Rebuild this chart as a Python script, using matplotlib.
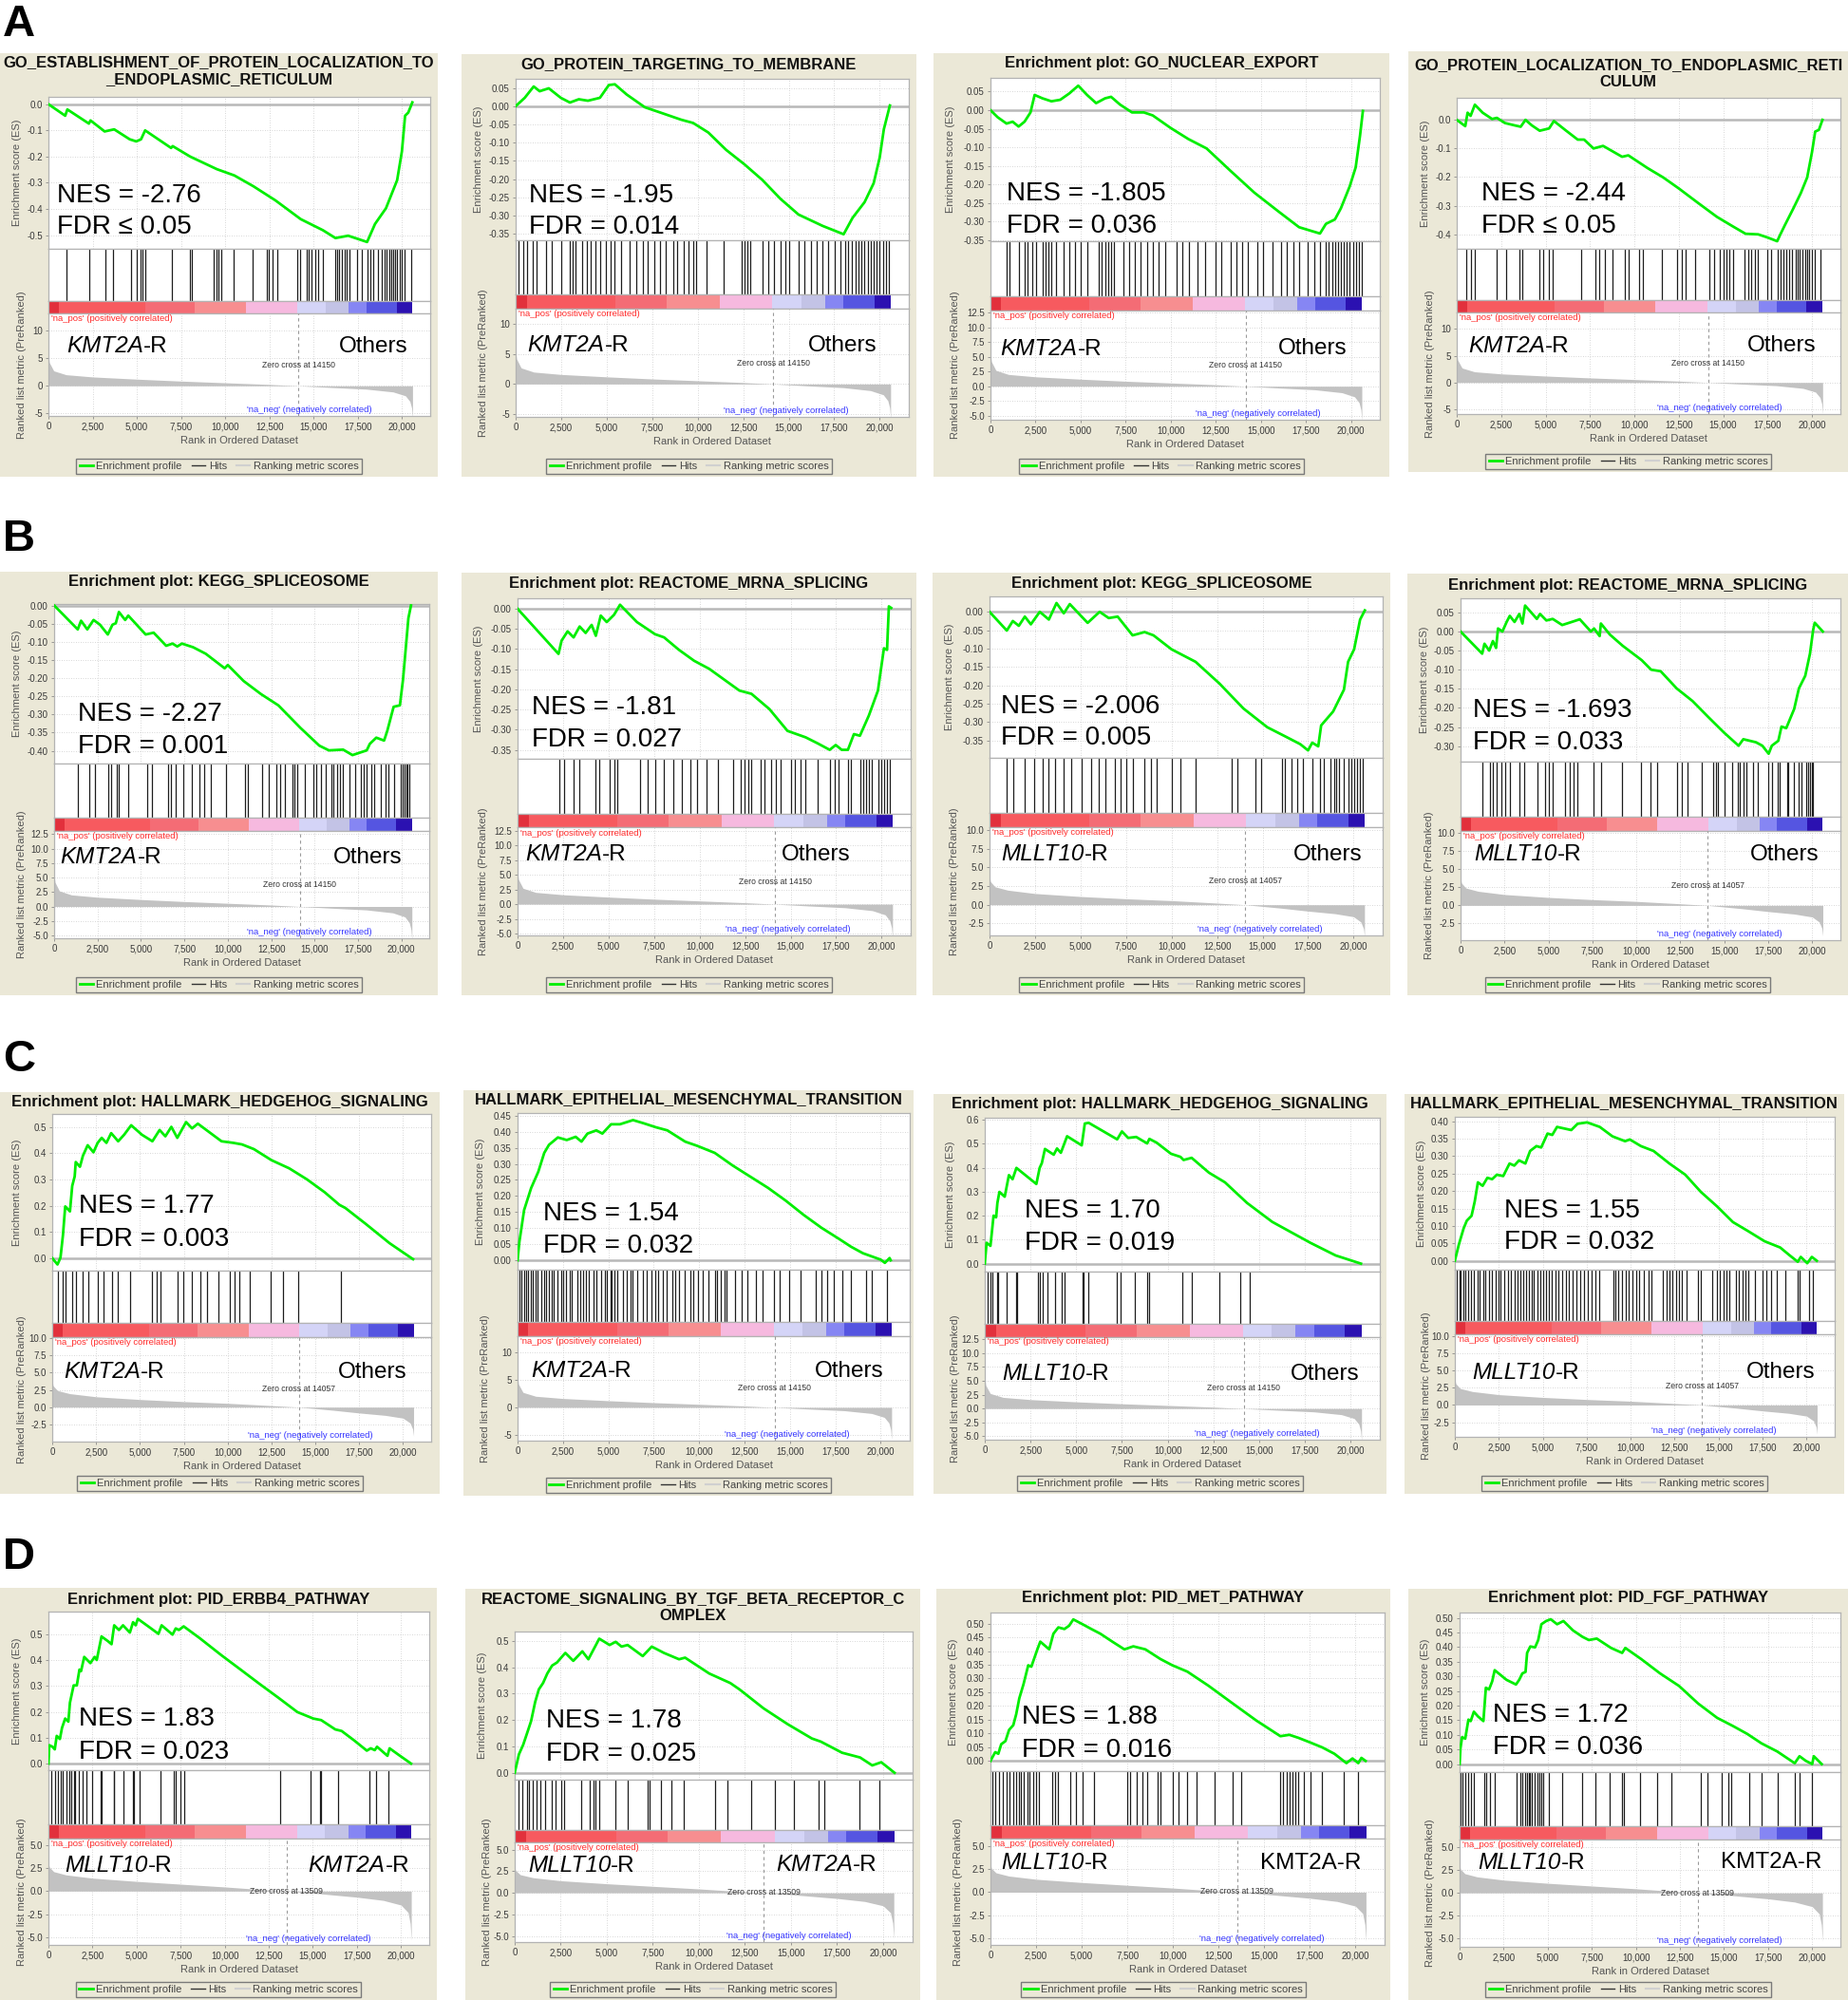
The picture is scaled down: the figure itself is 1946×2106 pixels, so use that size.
import matplotlib
matplotlib.use("Agg")
import matplotlib.pyplot as plt
from matplotlib.patches import Rectangle
from matplotlib.lines import Line2D
from matplotlib.ticker import FuncFormatter
import numpy as np

plt.rcParams.update({
    "font.family": ["Liberation Sans", "DejaVu Sans"],
    "axes.unicode_minus": False,
    "figure.facecolor": "white",
})

W, H = 1946, 2106
XMAX = 21600
BEIGE = "#ebe8d7"
GREEN = "#00ee00"
GRID = "#c9c9c9"
SPINE = "#b3b3b3"
TXT = "#3a3a3a"

# ---------------------------------------------------------------- data
# all rank values are in thousands of ranks
PANEL_NAMES = ["A1", "A2", "A3", "A4", "B1", "B2", "B3", "B4",
               "C1", "C2", "C3", "C4", "D1", "D2", "D3", "D4"]

TITLES = [
    "GO_ESTABLISHMENT_OF_PROTEIN_LOCALIZATION_TO\n_ENDOPLASMIC_RETICULUM",
    "GO_PROTEIN_TARGETING_TO_MEMBRANE",
    "Enrichment plot: GO_NUCLEAR_EXPORT",
    "GO_PROTEIN_LOCALIZATION_TO_ENDOPLASMIC_RETI\nCULUM",
    "Enrichment plot: KEGG_SPLICEOSOME",
    "Enrichment plot: REACTOME_MRNA_SPLICING",
    "Enrichment plot: KEGG_SPLICEOSOME",
    "Enrichment plot: REACTOME_MRNA_SPLICING",
    "Enrichment plot: HALLMARK_HEDGEHOG_SIGNALING",
    "HALLMARK_EPITHELIAL_MESENCHYMAL_TRANSITION",
    "Enrichment plot: HALLMARK_HEDGEHOG_SIGNALING",
    "HALLMARK_EPITHELIAL_MESENCHYMAL_TRANSITION",
    "Enrichment plot: PID_ERBB4_PATHWAY",
    "REACTOME_SIGNALING_BY_TGF_BETA_RECEPTOR_C\nOMPLEX",
    "Enrichment plot: PID_MET_PATHWAY",
    "Enrichment plot: PID_FGF_PATHWAY",
]

NES = ["-2.76", "-1.95", "-1.805", "-2.44", "-2.27", "-1.81", "-2.006", "-1.693",
       "1.77", "1.54", "1.70", "1.55", "1.83", "1.78", "1.88", "1.72"]
FDR = ["\u2264 0.05", "= 0.014", "= 0.036", "\u2264 0.05", "= 0.001", "= 0.027", "= 0.005", "= 0.033",
       "= 0.003", "= 0.032", "= 0.019", "= 0.032", "= 0.023", "= 0.025", "= 0.016", "= 0.036"]

# (italic part, upright part)
LEFT_LABEL = [("KMT2A", "-R")] * 6 + [("MLLT10", "-R")] * 2 + \
             [("KMT2A", "-R")] * 2 + [("MLLT10", "-R")] * 2 + [("MLLT10", "-R")] * 4
RIGHT_LABEL = [("", "Others")] * 12 + [("KMT2A", "-R")] * 2 + [("", "KMT2A-R")] * 2

ZERO_CROSS = [14150, 14150, 14150, 14150, 14150, 14150, 14057, 14057,
              14057, 14150, 14150, 14057, 13509, 13509, 13509, 13509]

# ranked list metric profiles (rank in thousands, metric value)
METRIC_KMT2A_X = [0, 0.05, 0.3, 1.0, 2.5, 5.0, 7.5, 10.0, 12.5, 14.15, 16.0, 18.0, 19.5, 20.2, 20.45, 20.55, 20.6]
METRIC_KMT2A_Y = [5.5, 4.2, 2.7, 2.0, 1.6, 1.2, 0.85, 0.55, 0.25, 0.0, -0.3, -0.6, -1.1, -1.8, -2.8, -4.0, -5.8]
METRIC_MLLT10_X = [0, 0.05, 0.3, 1.0, 2.5, 5.0, 7.5, 10.0, 12.5, 14.06, 16.0, 17.5, 19.0, 20.0, 20.4, 20.55, 20.6]
METRIC_MLLT10_Y = [3.8, 3.1, 2.4, 1.95, 1.5, 1.1, 0.8, 0.55, 0.22, 0.0, -0.45, -0.85, -1.2, -1.6, -2.3, -3.2, -4.2]
METRIC_MVK_X = [0, 0.05, 0.3, 1.0, 2.5, 5.0, 7.5, 10.0, 12.0, 13.51, 15.5, 17.5, 19.0, 20.0, 20.4, 20.52, 20.58]
METRIC_MVK_Y = [3.0, 2.6, 2.1, 1.75, 1.4, 1.05, 0.75, 0.45, 0.18, 0.0, -0.3, -0.65, -1.0, -1.5, -2.3, -3.5, -5.3]

# colour bar of the ranked list
CBAR_EDGES = [0, 0.6, 5.5, 8.3, 11.2, 14.1, 15.7, 17.0, 18.0, 19.7, 20.6]
CBAR_COLORS = ["#e2303c", "#f75a5f", "#f46c75", "#f78e90", "#f6b9df",
               "#d4d4f7", "#c3c3e6", "#8686f3", "#5555e1", "#2b11b1"]

# running enrichment scores
A1_ES_X = [0, 0.95, 1.07, 2.29, 2.38, 3.18, 3.72, 4.6, 4.97, 5.24, 5.47, 6.94, 7.03, 8.02, 9.53, 10.52, 11.59,
           12.84, 14.28, 15.53, 16.24, 16.96, 18.03, 18.48, 19.1, 19.73, 20.0, 20.18, 20.36, 20.59]
A1_ES_Y = [0, -0.044, -0.020, -0.074, -0.062, -0.104, -0.096, -0.134, -0.142, -0.134, -0.100, -0.167, -0.160,
           -0.200, -0.248, -0.272, -0.313, -0.367, -0.439, -0.481, -0.511, -0.502, -0.526, -0.457, -0.397,
           -0.29, -0.18, -0.044, -0.032, 0.007]
A2_ES_X = [0, 0.5, 0.99, 1.32, 1.82, 2.48, 2.98, 3.47, 3.97, 4.63, 5.12, 5.45, 6.1, 7.1, 8.1, 9.09, 9.75,
           10.58, 11.57, 12.56, 13.55, 14.55, 15.54, 16.86, 18.02, 18.51, 19.17, 19.67, 20.0, 20.23, 20.56]
A2_ES_Y = [0, 0.023, 0.054, 0.041, 0.049, 0.023, 0.010, 0.019, 0.015, 0.023, 0.058, 0.060, 0.032, -0.003,
           -0.02, -0.037, -0.046, -0.072, -0.12, -0.159, -0.202, -0.254, -0.297, -0.328, -0.351, -0.306,
           -0.263, -0.211, -0.141, -0.063, 0.002]
A3_ES_X = [0, 0.4, 0.89, 1.23, 1.56, 1.89, 2.22, 2.45, 2.88, 3.38, 3.87, 4.37, 4.87, 5.36, 5.86, 6.36, 6.69,
           7.19, 7.85, 8.51, 9.0, 10.0, 10.99, 11.99, 13.31, 14.64, 15.96, 17.12, 18.28, 18.61, 19.11, 19.44,
           19.93, 20.26, 20.5, 20.66]
A3_ES_Y = [0, -0.019, -0.036, -0.031, -0.044, -0.031, -0.006, 0.041, 0.032, 0.024, 0.028, 0.045, 0.066, 0.041,
           0.019, 0.032, 0.036, 0.015, -0.006, -0.006, -0.014, -0.048, -0.078, -0.103, -0.163, -0.222, -0.272,
           -0.315, -0.332, -0.306, -0.294, -0.264, -0.205, -0.154, -0.069, -0.002]
A4_ES_X = [0, 0.48, 0.61, 0.78, 1.02, 1.46, 1.99, 2.26, 2.71, 3.24, 3.6, 3.87, 4.22, 4.67, 5.2, 5.47, 6.1,
           6.81, 7.17, 7.7, 8.24, 9.31, 9.66, 10.73, 11.62, 12.51, 13.58, 14.65, 15.54, 16.26, 16.97, 17.5,
           18.04, 18.22, 18.48, 18.93, 19.37, 19.73, 20.0, 20.18, 20.39, 20.59]
A4_ES_Y = [0, -0.022, 0.025, 0.014, 0.053, 0.025, 0.003, 0.007, -0.011, -0.019, -0.024, 0, -0.019, -0.038,
           -0.030, -0.004, -0.035, -0.069, -0.069, -0.1, -0.091, -0.129, -0.124, -0.168, -0.201, -0.24, -0.29,
           -0.339, -0.372, -0.398, -0.4, -0.411, -0.424, -0.4, -0.367, -0.312, -0.256, -0.201, -0.113, -0.041,
           -0.035, 0]
B1_ES_X = [0, 1.36, 1.55, 1.91, 2.27, 2.64, 3.09, 3.36, 3.55, 3.73, 4.09, 4.27, 5.27, 5.73, 6.45, 6.82, 7.09,
           7.36, 8.0, 8.73, 9.82, 10.0, 10.91, 11.91, 12.91, 14.18, 15.27, 15.82, 16.64, 17.18, 18.0, 18.18,
           18.55, 19.0, 19.18, 19.55, 19.91, 20.09, 20.27, 20.4, 20.55]
B1_ES_Y = [0, -0.066, -0.042, -0.066, -0.040, -0.053, -0.080, -0.053, -0.049, -0.018, -0.040, -0.028, -0.080,
           -0.075, -0.111, -0.105, -0.113, -0.105, -0.115, -0.133, -0.173, -0.164, -0.208, -0.244, -0.275,
           -0.337, -0.386, -0.399, -0.397, -0.412, -0.399, -0.381, -0.364, -0.372, -0.346, -0.279, -0.275,
           -0.204, -0.106, -0.035, 0]
B2_ES_X = [0, 2.25, 2.42, 2.75, 3.08, 3.41, 3.74, 4.07, 4.3, 4.57, 4.9, 5.3, 5.63, 6.56, 7.55, 8.05, 8.87,
           9.7, 10.53, 11.36, 12.19, 12.85, 13.84, 14.83, 15.83, 16.49, 17.15, 17.48, 17.81, 18.15, 18.48,
           18.81, 19.3, 19.8, 20.13, 20.3, 20.4, 20.53]
B2_ES_Y = [0, -0.112, -0.079, -0.056, -0.071, -0.044, -0.060, -0.040, -0.067, -0.017, -0.033, -0.015, 0.010,
           -0.033, -0.063, -0.071, -0.102, -0.129, -0.149, -0.176, -0.203, -0.211, -0.249, -0.303, -0.319,
           -0.334, -0.35, -0.338, -0.35, -0.35, -0.311, -0.315, -0.265, -0.203, -0.098, -0.102, 0.006, 0.002]
B3_ES_X = [0, 0.95, 1.28, 1.61, 1.94, 2.27, 2.76, 3.26, 3.68, 4.08, 4.41, 5.39, 6.05, 6.55, 7.04, 7.86, 8.52,
           9.01, 10.0, 11.32, 12.63, 13.95, 15.26, 16.25, 17.07, 17.5, 17.73, 18.06, 18.22, 18.88, 19.47, 19.7,
           20.03, 20.36, 20.62]
B3_ES_Y = [0, -0.051, -0.025, -0.038, -0.013, -0.034, 0, -0.021, 0.024, -0.004, 0.021, -0.030, 0, -0.017,
           -0.013, -0.064, -0.055, -0.064, -0.102, -0.136, -0.195, -0.263, -0.314, -0.339, -0.36, -0.377,
           -0.356, -0.366, -0.309, -0.271, -0.212, -0.136, -0.102, -0.021, 0.004]
B4_ES_X = [0, 1.23, 1.36, 1.63, 1.84, 2.02, 2.13, 2.38, 2.62, 2.8, 3.07, 3.34, 3.52, 3.67, 4.34, 4.52, 4.88,
           5.24, 5.78, 6.32, 6.78, 7.41, 7.59, 7.91, 7.98, 8.49, 9.21, 10.3, 10.84, 11.38, 12.29, 13.19, 14.09,
           14.99, 15.81, 16.08, 16.8, 17.16, 17.52, 17.7, 18.07, 18.25, 18.52, 18.97, 19.24, 19.6, 19.87,
           20.05, 20.14, 20.6]
B4_ES_Y = [0, -0.058, -0.032, -0.05, -0.025, -0.043, 0.008, 0, 0.025, 0.041, 0.025, 0.046, 0.021, 0.068,
           0.033, 0.046, 0.029, 0.033, 0.017, 0.025, 0.032, 0, 0.008, -0.012, 0.021, -0.008, -0.037, -0.075,
           -0.1, -0.104, -0.149, -0.182, -0.224, -0.265, -0.299, -0.282, -0.29, -0.299, -0.32, -0.299, -0.286,
           -0.249, -0.253, -0.203, -0.149, -0.116, -0.058, 0.004, 0.023, 0]
C1_ES_X = [0, 0.3, 0.47, 0.61, 0.74, 1.01, 1.14, 1.28, 1.34, 1.58, 1.75, 2.02, 2.35, 2.59, 2.82, 3.09, 3.36,
           3.76, 4.1, 4.5, 5.11, 5.71, 6.12, 6.45, 6.79, 7.13, 7.63, 7.97, 8.3, 9.65, 10.32, 10.82, 11.5, 12.5,
           13.51, 14.52, 15.53, 16.37, 16.71, 17.88, 19.23, 20.57]
C1_ES_Y = [0, -0.024, 0.002, 0.087, 0.197, 0.178, 0.275, 0.311, 0.366, 0.348, 0.39, 0.43, 0.403, 0.439, 0.458,
           0.439, 0.476, 0.445, 0.470, 0.506, 0.470, 0.445, 0.488, 0.464, 0.500, 0.458, 0.518, 0.494, 0.512,
           0.445, 0.439, 0.433, 0.415, 0.373, 0.342, 0.300, 0.251, 0.203, 0.191, 0.130, 0.057, -0.004]
C2_ES_X = [0, 0.1, 0.36, 0.75, 1.14, 1.47, 1.73, 2.22, 2.71, 3.2, 3.52, 3.85, 4.34, 4.67, 5.15, 5.64, 6.36,
           6.95, 7.6, 8.25, 9.23, 9.89, 10.86, 11.84, 12.82, 13.8, 14.78, 15.76, 16.74, 17.72, 18.37, 19.02,
           19.51, 20.0, 20.23, 20.49, 20.55]
C2_ES_Y = [0, 0.057, 0.156, 0.225, 0.275, 0.334, 0.359, 0.382, 0.374, 0.384, 0.369, 0.394, 0.404, 0.394,
           0.423, 0.423, 0.436, 0.426, 0.414, 0.404, 0.369, 0.356, 0.334, 0.295, 0.260, 0.225, 0.185, 0.141,
           0.101, 0.066, 0.042, 0.022, 0.012, 0.002, -0.008, 0.007, 0]
C3_ES_X = [0, 0.1, 0.31, 0.4, 0.48, 0.62, 0.69, 0.8, 1.09, 1.32, 1.52, 1.73, 2.82, 3.0, 3.12, 3.29, 3.77,
           3.95, 4.16, 4.5, 5.3, 5.47, 5.68, 7.24, 7.5, 7.84, 8.28, 8.88, 9.0, 9.4, 10.18, 10.7, 10.87, 11.31,
           12.26, 13.13, 14.34, 15.72, 17.8, 19.19, 20.57]
C3_ES_Y = [0, 0.087, 0.074, 0.14, 0.2, 0.193, 0.253, 0.299, 0.279, 0.369, 0.352, 0.399, 0.332, 0.399, 0.419,
           0.478, 0.454, 0.480, 0.462, 0.531, 0.493, 0.584, 0.587, 0.518, 0.551, 0.524, 0.528, 0.501, 0.52,
           0.504, 0.458, 0.445, 0.432, 0.441, 0.379, 0.339, 0.253, 0.174, 0.087, 0.034, 0]
C4_ES_X = [0, 0.23, 0.5, 0.68, 0.95, 1.13, 1.31, 1.58, 1.85, 2.12, 2.39, 2.75, 3.11, 3.38, 3.65, 4.01, 4.28,
           4.64, 4.91, 5.27, 5.54, 5.81, 6.26, 6.62, 6.98, 7.52, 8.24, 8.96, 9.68, 9.95, 10.58, 11.3, 12.2,
           13.1, 14.0, 14.91, 15.81, 16.71, 17.61, 18.5, 19.05, 19.5, 19.67, 20.04, 20.3, 20.58]
C4_ES_Y = [0, 0.047, 0.093, 0.115, 0.129, 0.170, 0.225, 0.215, 0.238, 0.234, 0.247, 0.243, 0.279, 0.273,
           0.288, 0.279, 0.315, 0.329, 0.325, 0.365, 0.361, 0.384, 0.379, 0.375, 0.393, 0.397, 0.384, 0.357,
           0.343, 0.348, 0.329, 0.315, 0.279, 0.247, 0.197, 0.156, 0.111, 0.084, 0.056, 0.038, 0.015, -0.003,
           0.011, -0.007, 0.011, 0]
D1_ES_X = [0, 0.05, 0.23, 0.36, 0.47, 0.65, 0.77, 0.95, 1.13, 1.22, 1.43, 1.61, 1.76, 1.85, 2.03, 2.38, 2.62,
           2.74, 3.01, 3.37, 3.58, 3.73, 4.0, 4.23, 4.62, 4.8, 4.95, 5.07, 5.7, 6.24, 6.42, 7.04, 7.22, 7.4,
           7.67, 8.57, 9.82, 10.9, 11.97, 13.05, 14.12, 15.02, 15.47, 16.27, 16.63, 17.35, 18.06, 18.28, 18.51,
           18.64, 19.23, 19.35, 19.86, 20.57]
D1_ES_Y = [0, 0.071, 0.065, 0.055, 0.107, 0.095, 0.138, 0.174, 0.162, 0.235, 0.302, 0.302, 0.363, 0.357,
           0.412, 0.388, 0.412, 0.4, 0.491, 0.473, 0.461, 0.534, 0.516, 0.534, 0.506, 0.546, 0.534, 0.559,
           0.528, 0.501, 0.534, 0.498, 0.522, 0.516, 0.530, 0.485, 0.418, 0.363, 0.308, 0.254, 0.199, 0.174,
           0.168, 0.132, 0.126, 0.089, 0.050, 0.059, 0.052, 0.065, 0.030, 0.059, 0.034, 0]
D2_ES_X = [0, 0.23, 0.46, 0.72, 0.89, 1.11, 1.31, 1.54, 1.77, 2.03, 2.3, 2.52, 2.75, 3.18, 3.67, 4.0, 4.59,
           5.15, 5.48, 5.8, 6.13, 6.95, 7.44, 8.1, 8.92, 9.25, 10.56, 11.7, 12.2, 13.51, 14.82, 16.13, 16.62,
           17.77, 18.75, 19.41, 19.9, 20.62]
D2_ES_Y = [0, 0.070, 0.106, 0.16, 0.196, 0.268, 0.316, 0.34, 0.376, 0.406, 0.418, 0.436, 0.454, 0.424, 0.46,
           0.43, 0.508, 0.484, 0.496, 0.478, 0.484, 0.442, 0.478, 0.454, 0.430, 0.436, 0.376, 0.34, 0.316,
           0.244, 0.184, 0.130, 0.118, 0.076, 0.058, 0.028, 0.040, 0]
D3_ES_X = [0, 0.26, 0.43, 0.59, 0.82, 1.02, 1.25, 1.41, 1.58, 1.81, 2.07, 2.24, 2.57, 2.73, 3.22, 3.45, 3.72,
           4.05, 4.31, 4.54, 5.03, 5.53, 6.02, 6.68, 7.34, 7.83, 8.49, 9.31, 9.97, 10.79, 11.94, 13.26, 14.57,
           15.89, 16.38, 16.88, 17.53, 18.19, 18.85, 19.51, 19.84, 20.16, 20.33, 20.56]
D3_ES_Y = [0, 0.032, 0.026, 0.061, 0.072, 0.113, 0.130, 0.170, 0.228, 0.279, 0.348, 0.343, 0.406, 0.434,
           0.406, 0.463, 0.486, 0.480, 0.492, 0.515, 0.498, 0.480, 0.463, 0.434, 0.406, 0.417, 0.406, 0.371,
           0.348, 0.325, 0.274, 0.210, 0.147, 0.090, 0.095, 0.084, 0.067, 0.049, 0.026, -0.008, 0.009, -0.008,
           0.011, 0]
D4_ES_X = [0, 0.05, 0.14, 0.32, 0.5, 0.63, 0.81, 1.04, 1.35, 1.49, 1.67, 1.85, 1.99, 2.66, 3.2, 3.38, 3.56,
           3.74, 3.83, 4.01, 4.28, 4.46, 4.64, 4.91, 5.17, 5.53, 5.89, 6.43, 6.97, 7.33, 7.78, 8.59, 9.22, 9.4,
           10.3, 11.37, 12.45, 13.53, 14.61, 15.51, 16.32, 17.12, 18.02, 19.01, 19.28, 19.64, 20.0, 20.09, 20.54]
D4_ES_Y = [0, 0.054, 0.092, 0.087, 0.152, 0.147, 0.179, 0.163, 0.147, 0.261, 0.255, 0.283, 0.321, 0.288,
           0.272, 0.288, 0.310, 0.315, 0.380, 0.402, 0.399, 0.424, 0.478, 0.489, 0.495, 0.478, 0.489, 0.457,
           0.435, 0.424, 0.429, 0.397, 0.380, 0.397, 0.359, 0.310, 0.267, 0.207, 0.158, 0.130, 0.103, 0.071,
           0.043, 0.003, 0.027, 0.011, 0, 0.027, 0]

# positions of gene-set members in the ranked list
A1_HITS = [1.04, 2.29, 3.24, 3.67, 4.67, 5.01, 5.21, 5.30, 5.47, 6.99, 7.98, 8.14, 9.36, 9.50, 9.62, 9.80,
           10.48, 11.54, 12.36, 12.49, 12.67, 12.93, 14.10, 14.24, 14.60, 14.72, 14.90, 15.08, 15.26, 15.53,
           16.21, 16.33, 16.46, 16.60, 16.74, 16.87, 17.05, 17.46, 17.71, 18.07, 18.21, 18.35, 18.66, 18.84,
           19.02, 19.14, 19.28, 19.39, 19.50, 19.61, 19.73, 19.86, 20.00, 20.14, 20.54]
A2_HITS = [0.17, 0.40, 0.60, 0.93, 1.16, 1.65, 1.98, 2.48, 2.98, 3.14, 3.31, 3.64, 3.90, 4.13, 4.36, 4.63,
           4.96, 5.22, 5.45, 5.79, 6.28, 6.61, 7.01, 7.27, 7.60, 7.93, 8.26, 8.66, 8.86, 9.26, 9.52, 9.75, 9.92,
           10.51, 11.40, 12.40, 12.56, 12.73, 12.89, 13.55, 13.88, 14.21, 14.55, 14.81, 15.04, 15.54, 15.87,
           16.20, 16.53, 16.86, 17.19, 17.52, 17.85, 18.12, 18.25, 18.45, 18.68, 18.84, 19.01, 19.17, 19.34,
           19.50, 19.67, 19.83, 20.0, 20.17, 20.33, 20.50]
A3_HITS = [0.89, 1.06, 1.56, 1.89, 2.05, 2.32, 2.55, 2.88, 3.05, 3.21, 3.38, 3.64, 4.04, 4.37, 4.70, 5.03,
           5.36, 6.03, 6.19, 6.36, 6.52, 6.69, 6.85, 7.35, 7.68, 8.01, 8.34, 8.68, 9.01, 9.34, 9.67, 10.33,
           10.66, 10.99, 11.49, 11.92, 12.48, 12.81, 13.31, 13.64, 13.97, 14.30, 14.80, 15.13, 15.63, 16.13,
           16.46, 16.79, 17.12, 17.62, 17.95, 18.28, 18.61, 18.77, 18.94, 19.11, 19.27, 19.44, 19.60, 19.77,
           19.93, 20.10, 20.26, 20.43, 20.60]
A4_HITS = [0.53, 0.78, 1.02, 2.26, 2.80, 3.51, 3.69, 4.67, 4.85, 5.21, 5.42, 6.99, 7.79, 8.02, 8.32, 8.77,
           9.48, 9.66, 10.29, 10.46, 11.53, 12.42, 12.69, 12.87, 13.44, 14.21, 14.47, 14.80, 15.01, 15.19,
           15.37, 15.54, 16.22, 16.40, 16.58, 16.79, 16.97, 17.50, 17.72, 18.07, 18.22, 18.40, 18.57, 18.72,
           18.89, 19.07, 19.20, 19.32, 19.47, 19.61, 19.73, 19.86, 20.0, 20.18, 20.50]
B1_HITS = [1.36, 2.0, 2.33, 3.09, 3.27, 3.6, 3.73, 4.27, 5.36, 5.64, 6.58, 6.73, 7.0, 7.45, 7.91, 8.36, 8.64,
           9.0, 9.91, 11.0, 11.18, 11.96, 12.36, 12.82, 13.0, 13.27, 13.73, 13.82, 14.0, 14.45, 14.91, 15.09,
           15.36, 15.64, 15.96, 16.09, 16.27, 16.45, 16.64, 17.0, 17.36, 17.64, 17.82, 18.0, 18.27, 18.45,
           18.82, 19.09, 19.27, 19.55, 19.96, 20.09, 20.18, 20.27, 20.36, 20.45]
B2_HITS = [2.32, 2.58, 3.08, 3.41, 4.3, 4.5, 5.07, 5.3, 5.5, 6.72, 7.15, 7.55, 8.05, 8.54, 9.04, 9.47, 9.87,
           10.36, 11.03, 11.85, 12.25, 12.45, 12.68, 12.85, 13.34, 13.58, 13.91, 14.17, 14.44, 15.0, 15.23,
           15.56, 15.83, 16.49, 17.15, 17.42, 17.65, 18.15, 18.31, 18.81, 18.97, 19.14, 19.3, 19.47, 19.8,
           19.97, 20.13, 20.3, 20.46]
B3_HITS = [0.95, 1.28, 1.94, 2.43, 2.93, 3.26, 3.59, 4.08, 4.47, 5.07, 5.56, 5.99, 6.38, 6.88, 7.2, 7.53,
           7.86, 8.52, 8.85, 9.18, 10.0, 10.49, 11.32, 13.29, 13.62, 14.61, 14.93, 16.09, 16.25, 16.58, 16.91,
           17.24, 17.73, 18.16, 18.39, 18.72, 18.95, 19.05, 19.21, 19.47, 19.7, 19.87, 20.03, 20.2, 20.36, 20.53]
B4_HITS = [1.23, 1.66, 1.81, 2.04, 2.31, 2.53, 2.8, 3.34, 3.61, 4.37, 4.79, 5.02, 5.24, 5.96, 6.23, 6.41,
           6.65, 7.55, 7.99, 9.18, 10.26, 10.8, 11.17, 12.29, 12.56, 12.92, 13.73, 14.36, 14.54, 14.63, 15.03,
           15.45, 15.75, 15.9, 16.08, 16.26, 16.62, 16.89, 17.52, 17.71, 18.03, 18.16, 18.57, 18.64, 18.93,
           19.24, 19.37, 19.66, 19.78, 19.87, 19.96, 20.05]
C1_HITS = [0.34, 0.57, 0.74, 1.14, 1.34, 1.75, 2.08, 2.59, 2.92, 3.43, 3.76, 4.44, 5.71, 5.95, 6.18, 7.13,
           7.46, 7.97, 8.47, 8.81, 9.48, 10.15, 10.42, 10.66, 11.26, 12.44, 13.18, 14.02, 16.44]
C2_HITS = [0.1, 0.2, 0.35, 0.45, 0.6, 0.75, 0.85, 1.0, 1.1, 1.3, 1.45, 1.55, 1.7, 1.9, 2.0, 2.2, 2.4, 2.5,
           2.65, 2.9, 3.0, 3.3, 3.45, 3.6, 3.75, 3.9, 4.2, 4.35, 4.6, 4.8, 4.9, 5.1, 5.2, 5.35, 5.5, 5.8, 6.0,
           6.2, 6.35, 6.6, 6.9, 7.1, 7.4, 7.6, 7.75, 8.0, 8.2, 8.5, 8.7, 8.9, 9.2, 9.5, 9.7, 9.95, 10.2, 10.5,
           10.9, 11.0, 11.2, 11.4, 11.52, 12.0, 12.33, 12.66, 13.15, 13.47, 14.13, 14.45, 14.94, 15.6, 16.41,
           16.74, 17.06, 17.39, 17.88, 18.37, 19.18, 19.51, 20.33]
C3_HITS = [0.14, 0.31, 0.4, 0.66, 0.74, 1.18, 1.7, 1.78, 2.91, 3.0, 3.17, 3.43, 3.83, 4.21, 4.38, 5.33, 5.42,
           5.68, 7.2, 7.41, 8.19, 8.88, 8.97, 10.79, 11.31, 12.83, 13.96, 14.48]
C4_HITS = [0.1, 0.25, 0.35, 0.5, 0.6, 0.75, 0.9, 1.1, 1.3, 1.4, 1.6, 1.75, 1.95, 2.1, 2.3, 2.5, 2.6, 2.8,
           3.0, 3.2, 3.4, 3.55, 3.7, 3.9, 4.05, 4.2, 4.35, 4.5, 4.7, 4.85, 5.0, 5.2, 5.35, 5.5, 5.7, 5.9, 6.1,
           6.3, 6.5, 6.7, 6.9, 7.15, 7.35, 7.55, 7.8, 8.0, 8.2, 9.0, 9.1, 9.3, 9.5, 9.7, 9.9, 10.1, 10.3, 10.5,
           10.75, 11.0, 11.2, 11.85, 12.03, 12.21, 12.39, 12.57, 12.75, 12.93, 13.2, 13.83, 14.0, 14.64, 14.91,
           15.09, 15.27, 15.45, 15.63, 15.99, 16.17, 16.35, 16.53, 16.71, 17.07, 17.52, 17.7, 17.97, 18.33,
           18.78, 19.5, 19.62, 20.13, 20.34]
D1_HITS = [0.14, 0.36, 0.54, 0.68, 0.82, 1.04, 1.18, 1.31, 1.43, 1.49, 1.72, 1.94, 2.15, 2.47, 2.97, 3.01,
           3.69, 3.73, 4.23, 4.8, 4.84, 5.16, 6.33, 7.13, 7.22, 7.49, 7.71, 13.14, 14.84, 15.41, 15.47, 16.45,
           18.21, 18.57, 19.28]
D2_HITS = [0.23, 0.39, 0.66, 0.79, 0.98, 1.21, 1.38, 1.64, 2.03, 2.2, 2.52, 2.69, 3.61, 4.07, 4.26, 4.39,
           4.59, 5.48, 6.13, 7.21, 7.34, 7.93, 8.52, 9.18, 10.89, 11.54, 12.85, 14.1, 15.15, 16.52, 16.79,
           18.69, 19.8]
D3_HITS = [0.1, 0.26, 0.49, 0.69, 0.86, 1.02, 1.25, 1.41, 1.58, 1.68, 1.81, 2.01, 2.14, 2.34, 2.5, 2.66,
           3.39, 3.55, 3.72, 4.38, 4.7, 5.03, 5.69, 7.5, 7.66, 7.99, 8.32, 8.59, 9.14, 9.31, 9.97, 10.3, 10.79,
           11.28, 12.27, 13.26, 13.75, 15.89, 16.05, 16.22, 16.38, 16.55, 16.71, 16.88, 17.2, 17.53, 18.19,
           19.34, 20.16]
D4_HITS = [0.05, 0.14, 0.32, 0.5, 0.63, 0.81, 1.4, 1.49, 1.71, 1.99, 3.25, 3.43, 3.56, 3.74, 3.83, 3.92,
           4.01, 4.1, 4.28, 4.4, 4.51, 4.64, 4.76, 5.09, 5.8, 6.97, 7.69, 8.5, 9.22, 9.31, 10.21, 11.2, 12.0,
           13.67, 14.07, 14.88, 15.24, 15.42, 16.41, 17.12, 18.02, 19.01, 19.28, 20.0]

# axis ticks
T_ES_NEG1_5 = [0.0, -0.1, -0.2, -0.3, -0.4, -0.5]
T_ES_NEG1_4 = [0.0, -0.1, -0.2, -0.3, -0.4]
T_ES_NEG05_35 = [0.05, 0.0, -0.05, -0.10, -0.15, -0.20, -0.25, -0.30, -0.35]
T_ES_NEG0_40 = [0.0, -0.05, -0.10, -0.15, -0.20, -0.25, -0.30, -0.35, -0.40]
T_ES_NEG0_35 = [0.0, -0.05, -0.10, -0.15, -0.20, -0.25, -0.30, -0.35]
T_ES_NEG05_30 = [0.05, 0.0, -0.05, -0.10, -0.15, -0.20, -0.25, -0.30]
T_ES_POS1_5 = [0.0, 0.1, 0.2, 0.3, 0.4, 0.5]
T_ES_POS1_6 = [0.0, 0.1, 0.2, 0.3, 0.4, 0.5, 0.6]
T_ES_POS05_45 = [0.0, 0.05, 0.10, 0.15, 0.20, 0.25, 0.30, 0.35, 0.40, 0.45]
T_ES_POS05_40 = [0.0, 0.05, 0.10, 0.15, 0.20, 0.25, 0.30, 0.35, 0.40]
T_ES_POS05_50 = [0.0, 0.05, 0.10, 0.15, 0.20, 0.25, 0.30, 0.35, 0.40, 0.45, 0.50]
T_M_5 = [-5, 0, 5, 10]
T_M_125 = [-5.0, -2.5, 0.0, 2.5, 5.0, 7.5, 10.0, 12.5]
T_M_10 = [-2.5, 0.0, 2.5, 5.0, 7.5, 10.0]
T_M_D = [-5.0, -2.5, 0.0, 2.5, 5.0]
X_TICKS = [0, 2500, 5000, 7500, 10000, 12500, 15000, 17500, 20000]

ES_X = [A1_ES_X, A2_ES_X, A3_ES_X, A4_ES_X, B1_ES_X, B2_ES_X, B3_ES_X, B4_ES_X,
        C1_ES_X, C2_ES_X, C3_ES_X, C4_ES_X, D1_ES_X, D2_ES_X, D3_ES_X, D4_ES_X]
ES_Y = [A1_ES_Y, A2_ES_Y, A3_ES_Y, A4_ES_Y, B1_ES_Y, B2_ES_Y, B3_ES_Y, B4_ES_Y,
        C1_ES_Y, C2_ES_Y, C3_ES_Y, C4_ES_Y, D1_ES_Y, D2_ES_Y, D3_ES_Y, D4_ES_Y]
HITS = [A1_HITS, A2_HITS, A3_HITS, A4_HITS, B1_HITS, B2_HITS, B3_HITS, B4_HITS,
        C1_HITS, C2_HITS, C3_HITS, C4_HITS, D1_HITS, D2_HITS, D3_HITS, D4_HITS]
METRIC = {14150: (METRIC_KMT2A_X, METRIC_KMT2A_Y),
          14057: (METRIC_MLLT10_X, METRIC_MLLT10_Y),
          13509: (METRIC_MVK_X, METRIC_MVK_Y)}
ES_TICKS = [(T_ES_NEG1_5, 1), (T_ES_NEG05_35, 2), (T_ES_NEG05_35, 2), (T_ES_NEG1_4, 1),
            (T_ES_NEG0_40, 2), (T_ES_NEG0_35, 2), (T_ES_NEG0_35, 2), (T_ES_NEG05_30, 2),
            (T_ES_POS1_5, 1), (T_ES_POS05_45, 2), (T_ES_POS1_6, 1), (T_ES_POS05_40, 2),
            (T_ES_POS1_5, 1), (T_ES_POS1_5, 1), (T_ES_POS05_50, 2), (T_ES_POS05_50, 2)]
M_TICKS = [(T_M_5, 0), (T_M_5, 0), (T_M_125, 1), (T_M_5, 0),
           (T_M_125, 1), (T_M_125, 1), (T_M_10, 1), (T_M_10, 1),
           (T_M_10, 1), (T_M_5, 0), (T_M_125, 1), (T_M_10, 1),
           (T_M_D, 1), (T_M_D, 1), (T_M_D, 1), (T_M_D, 1)]

# ---------------------------------------------------------------- layout (pixels)
PANEL_BOX = [(0, 56, 461, 502), (486, 57, 965, 502), (983, 56, 1463, 502), (1483, 54, 1946, 497),
             (0, 602, 461, 1048), (486, 603, 965, 1048), (982, 603, 1464, 1048), (1482, 604, 1946, 1048),
             (0, 1150, 463, 1573), (488, 1148, 962, 1575), (983, 1152, 1460, 1573), (1479, 1152, 1942, 1573),
             (0, 1672, 460, 2106), (490, 1673, 969, 2106), (986, 1673, 1464, 2106), (1483, 1673, 1946, 2106)]
PLOT_BOX = [(51, 102, 453, 438), (543, 83, 957, 439), (1043, 82, 1453, 442), (1534, 103, 1938, 436),
            (57, 636, 452, 988), (545, 630, 959, 985), (1042, 628, 1456, 985), (1538, 630, 1938, 990),
            (55, 1173, 454, 1518), (545, 1172, 958, 1517), (1037, 1177, 1453, 1516), (1532, 1176, 1932, 1513),
            (51, 1697, 452, 2048), (542, 1718, 961, 2045), (1043, 1698, 1458, 2048), (1537, 1698, 1938, 2050)]
TITLE_Y = [75, 68, 67, 78, 613, 615, 615, 616, 1161, 1158, 1163, 1162, 1684, 1693, 1683, 1683]
ES_LIM = [(-0.553, 0.028), (-0.367, 0.075), (-0.352, 0.087), (-0.45, 0.077),
          (-0.435, 0.004), (-0.373, 0.026), (-0.398, 0.042), (-0.34, 0.087),
          (-0.046, 0.549), (-0.028, 0.458), (-0.032, 0.608), (-0.025, 0.413),
          (-0.027, 0.587), (-0.026, 0.535), (-0.037, 0.540), (-0.027, 0.518)]
M_LIM = [(-5.43, 12.97), (-5.5, 12.6), (-5.7, 12.9), (-5.9, 13.0),
         (-5.5, 13.0), (-5.3, 13.0), (-4.1, 10.4), (-4.8, 10.3),
         (-5.0, 10.2), (-6.0, 12.9), (-5.6, 12.9), (-4.6, 10.2),
         (-5.8, 5.7), (-5.7, 5.8), (-5.7, 5.8), (-5.9, 5.8)]
# NES block: left x (k ranks), centre of NES line, centre of FDR line (ES units)
NES_POS = [(0.5, -0.349, -0.469), (0.73, -0.245, -0.332), (0.89, -0.226, -0.311), (1.37, -0.259, -0.372),
           (1.36, -0.299, -0.387), (0.76, -0.245, -0.325), (0.63, -0.258, -0.343), (0.69, -0.207, -0.29),
           (1.51, 0.197, 0.073), (1.40, 0.146, 0.045), (2.18, 0.22, 0.087), (2.81, 0.143, 0.052),
           (1.72, 0.174, 0.046), (1.7, 0.196, 0.070), (1.74, 0.159, 0.038), (1.89, 0.168, 0.058)]
# group labels: left x, y (metric units), right edge x
LABEL_POS = [(1.04, 7.1, 20.36), (0.66, 6.45, 19.83), (0.56, 6.4, 19.77), (0.66, 6.86, 20.21),
             (0.36, 8.5, 20.04), (0.43, 8.4, 18.3), (0.63, 6.7, 20.5), (0.76, 7.0, 20.38),
             (0.67, 5.1, 20.2), (0.75, 6.5, 20.16), (0.97, 6.2, 20.48), (1.0, 4.7, 20.5),
             (0.95, 2.74, 20.48), (0.72, 3.15, 19.67), (0.59, 3.14, 20.33), (1.04, 3.32, 20.54)]
LETTERS = [("A", 38), ("B", 580), ("C", 1128), ("D", 1652)]

ES_FRAC, HIT_FRAC, CB_FRAC = 0.477, 0.639, 0.680

fig = plt.figure(figsize=(W / 100, H / 100), dpi=100)


def fig_rect(l, t, r, b):
    return [l / W, 1 - b / H, (r - l) / W, (b - t) / H]


def style_axes(ax):
    for s in ax.spines.values():
        s.set_color(SPINE)
        s.set_linewidth(0.9)


def group_label(ax, x, y, parts, side):
    it, up = parts
    kw = dict(fontsize=17.5, color="black", clip_on=False)
    if side == "left":
        if it:
            t = ax.text(x, y, it, style="italic", ha="left", va="center", **kw)
            ax.annotate(up, xy=(1, 0), xycoords=t, ha="left", va="bottom", **kw)
        else:
            ax.text(x, y, up, ha="left", va="center", **kw)
    else:
        t = ax.text(x, y, up, ha="right", va="center", **kw)
        if it:
            ax.annotate(it, xy=(0, 0), xycoords=t, ha="right", va="bottom", style="italic", **kw)


for i in range(16):
    px0, py0, px1, py1 = PANEL_BOX[i]
    fig.add_artist(Rectangle((px0 / W, 1 - py1 / H), (px1 - px0) / W, (py1 - py0) / H,
                             transform=fig.transFigure, facecolor=BEIGE, edgecolor="none", zorder=-5))
    l, t, r, b = PLOT_BOX[i]
    h = b - t
    y_es, y_hit, y_cb = t + ES_FRAC * h, t + HIT_FRAC * h, t + CB_FRAC * h

    ax_es = fig.add_axes(fig_rect(l, t, r, y_es))
    ax_h = fig.add_axes(fig_rect(l, y_es, r, y_hit))
    ax_c = fig.add_axes(fig_rect(l, y_hit, r, y_cb))
    ax_m = fig.add_axes(fig_rect(l, y_cb, r, b))
    for ax in (ax_es, ax_h, ax_c, ax_m):
        ax.set_facecolor("white")
        ax.set_xlim(0, XMAX)
        style_axes(ax)

    # --- enrichment score
    ax_es.set_ylim(*ES_LIM[i])
    ax_es.axhline(0, color="#b8b8b8", lw=1.8, zorder=2)
    ax_es.plot(np.asarray(ES_X[i]) * 1000, ES_Y[i], color=GREEN, lw=2.0, zorder=3,
               solid_joinstyle="round")
    ticks, dec = ES_TICKS[i]
    ax_es.set_yticks(ticks)
    ax_es.yaxis.set_major_formatter(FuncFormatter(lambda v, p, d=dec: f"{v:.{d}f}"))
    ax_es.set_xticks(X_TICKS)
    ax_es.tick_params(axis="x", length=0, labelbottom=False)
    ax_es.tick_params(axis="y", length=2.5, width=0.6, color="#888888", pad=2,
                      labelsize=7, labelcolor=TXT)
    ax_es.grid(True, color=GRID, lw=0.6, ls=(0, (1, 2)))
    ax_es.set_ylabel("Enrichment score (ES)", fontsize=8, color="#555555")
    ax_es.yaxis.set_label_coords((px0 + 23 - l) / (r - l), 0.5)
    nx, ny1, ny2 = NES_POS[i]
    ax_es.text(nx * 1000, ny1, "NES = " + NES[i], fontsize=20, ha="left", va="center", zorder=4)
    ax_es.text(nx * 1000, ny2, "FDR " + FDR[i], fontsize=20, ha="left", va="center", zorder=4)

    # --- hits
    ax_h.set_ylim(0, 1)
    ax_h.vlines(np.asarray(HITS[i]) * 1000, 0, 1, color="#1c1c1c", lw=0.9)
    ax_h.set_xticks([])
    ax_h.set_yticks([])

    # --- colour bar
    edges = np.asarray(CBAR_EDGES) * 1000
    ax_c.barh(0, np.diff(edges), left=edges[:-1], height=1.0, color=CBAR_COLORS, linewidth=0)
    ax_c.set_ylim(-0.5, 0.5)
    ax_c.set_xticks([])
    ax_c.set_yticks([])

    # --- ranked list metric
    zc = ZERO_CROSS[i]
    mx, my = METRIC[zc]
    ax_m.set_ylim(*M_LIM[i])
    ax_m.fill_between(np.asarray(mx) * 1000, 0, my, color="#c2c2c2", lw=0, zorder=2)
    ax_m.axvline(zc, color="#9a9a9a", lw=0.8, ls=(0, (3, 3)), zorder=3)
    xt = ax_m.get_xaxis_transform()
    ax_m.text(zc, 0.5, f"Zero cross at {zc}", transform=xt, ha="center", va="center",
              fontsize=6.2, color="#333333", zorder=4)
    ax_m.text(150, 0.95, "'na_pos' (positively correlated)", transform=xt, ha="left", va="center",
              fontsize=6.8, color="#ff2a2a", zorder=4)
    ax_m.text(18300, 0.06, "'na_neg' (negatively correlated)", transform=xt, ha="right", va="center",
              fontsize=6.8, color="#3535ff", zorder=4)
    mt, mdec = M_TICKS[i]
    ax_m.set_yticks(mt)
    ax_m.yaxis.set_major_formatter(FuncFormatter(lambda v, p, d=mdec: f"{v:.{d}f}"))
    ax_m.set_xticks(X_TICKS)
    ax_m.xaxis.set_major_formatter(FuncFormatter(lambda v, p: f"{int(v):,}"))
    ax_m.tick_params(length=2.5, width=0.6, color="#888888", pad=2, labelsize=7, labelcolor=TXT)
    ax_m.grid(True, color=GRID, lw=0.6, ls=(0, (1, 2)))
    ax_m.set_ylabel("Ranked list metric (PreRanked)", fontsize=8, color="#555555")
    ax_m.yaxis.set_label_coords((px0 + 28 - l) / (r - l), 0.5)
    ax_m.set_xlabel("Rank in Ordered Dataset", fontsize=8, color="#555555")
    ax_m.xaxis.set_label_coords(0.5, -21 / (b - y_cb))
    lx, ly, rx = LABEL_POS[i]
    group_label(ax_m, lx * 1000, ly, LEFT_LABEL[i], "left")
    group_label(ax_m, rx * 1000, ly, RIGHT_LABEL[i], "right")

    # --- title and legend
    cx = (px0 + px1) / 2
    fig.text(cx / W, 1 - TITLE_Y[i] / H, TITLES[i], ha="center", va="center",
             fontsize=12, fontweight="bold", linespacing=1.25, color="#111111")
    handles = [Line2D([], [], color=GREEN, lw=2),
               Line2D([], [], color="#333333", lw=1),
               Line2D([], [], color="#d0d0d0", lw=1.5)]
    fig.legend(handles, ["Enrichment profile", "Hits", "Ranking metric scores"],
               loc="center", bbox_to_anchor=(cx / W, 1 - (py1 - 11) / H), ncol=3,
               fontsize=8, labelcolor="#444444", frameon=True, fancybox=False,
               edgecolor="#7a7a7a", facecolor=BEIGE, framealpha=1, borderpad=0.3,
               handlelength=1.3, handletextpad=0.3, columnspacing=0.9, borderaxespad=0)

for letter, base in LETTERS:
    fig.text(3 / W, 1 - base / H, letter, fontsize=34, fontweight="bold", va="baseline", ha="left")

fig.savefig("out.png", dpi=100, facecolor="white")
